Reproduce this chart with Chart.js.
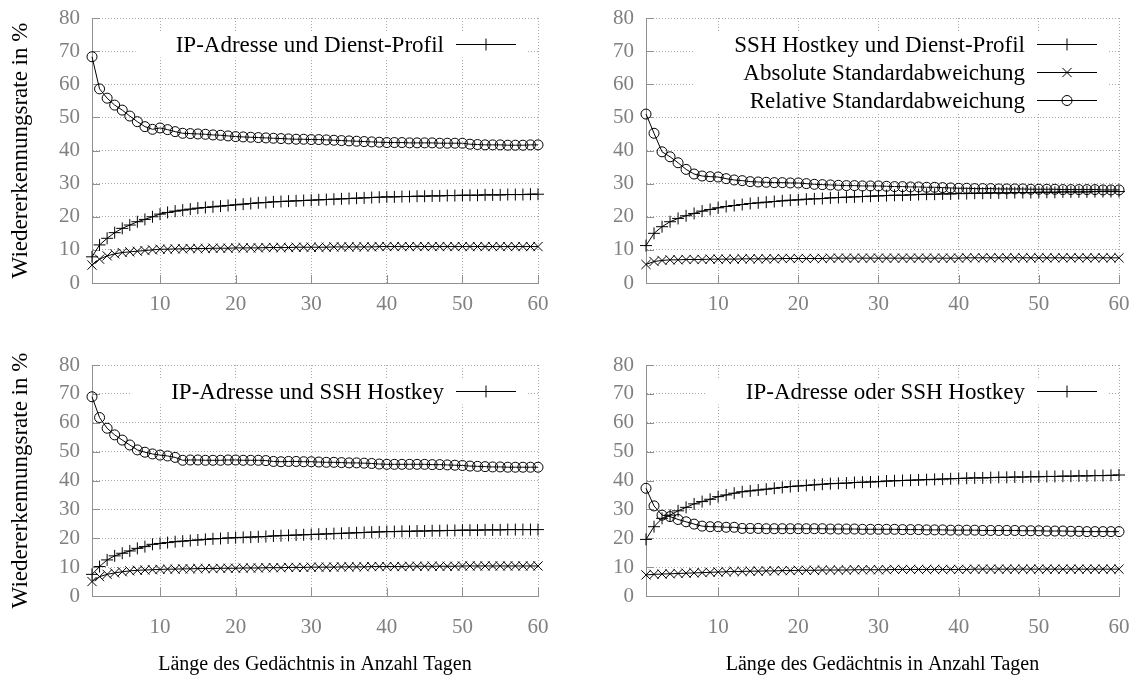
<!DOCTYPE html>
<html><head><meta charset="utf-8">
<script src="https://cdn.jsdelivr.net/npm/chart.js@4/dist/chart.umd.min.js"></script>
<style>
html,body{margin:0;padding:0;background:#fff;width:1139px;height:677px;overflow:hidden}
canvas{position:absolute}
</style></head><body>
<canvas id="c1" width="569" height="340" style="left:0;top:0"></canvas>
<canvas id="c2" width="570" height="340" style="left:569px;top:0"></canvas>
<canvas id="c3" width="569" height="337" style="left:0;top:340px"></canvas>
<canvas id="c4" width="570" height="337" style="left:569px;top:340px"></canvas>
<script>
const days = [1,2,3,4,5,6,7,8,9,10,11,12,13,14,15,16,17,18,19,20,21,22,23,24,25,26,27,28,29,30,
  31,32,33,34,35,36,37,38,39,40,41,42,43,44,45,46,47,48,49,50,51,52,53,54,55,56,57,58,59,60];
const xTicks = [10,20,30,40,50,60];
const yTicks = [0,10,20,30,40,50,60,70,80];
const yTitle = 'Wiedererkennungsrate in %';
const xTitle = 'Länge des Gedächtnis in Anzahl Tagen';
const labelAbs = 'Absolute Standardabweichung';
const labelRel = 'Relative Standardabweichung';
const titles = ['IP-Adresse und Dienst-Profil','SSH Hostkey und Dienst-Profil','IP-Adresse und SSH Hostkey','IP-Adresse oder SSH Hostkey'];

const p1Rate = [7.9,11.5,13.5,15.2,16.5,17.5,18.5,19.2,20.0,20.8,
  21.3,21.7,22.0,22.3,22.6,22.8,23.0,23.2,23.4,23.6,
  23.8,24.0,24.2,24.3,24.5,24.6,24.7,24.8,24.9,25.0,
  25.1,25.2,25.3,25.4,25.5,25.6,25.7,25.8,25.9,26.0,
  26.0,26.1,26.1,26.2,26.2,26.3,26.3,26.4,26.4,26.5,
  26.5,26.5,26.6,26.6,26.6,26.7,26.7,26.7,26.8,26.8];
const p1Abs = [5.4,7.2,8.2,8.8,9.2,9.4,9.6,9.8,10.0,10.2,
  10.2,10.3,10.3,10.4,10.4,10.4,10.5,10.5,10.5,10.6,
  10.6,10.6,10.6,10.7,10.7,10.7,10.7,10.8,10.8,10.8,
  10.8,10.8,10.9,10.9,10.9,10.9,10.9,10.9,11.0,11.0,
  11.0,11.0,11.0,11.0,11.0,11.0,11.0,11.0,11.0,11.0,
  11.0,11.0,11.0,11.0,11.0,11.0,11.0,11.0,11.0,11.0];
const p1Rel = [68.3,58.6,55.8,53.7,52.2,50.4,48.7,47.2,46.4,46.8,
  46.3,45.7,45.2,45.1,45.0,44.9,44.7,44.6,44.4,44.2,
  44.1,44.0,43.9,43.8,43.7,43.6,43.5,43.4,43.4,43.3,
  43.3,43.2,43.1,43.0,42.9,42.8,42.7,42.6,42.5,42.4,
  42.4,42.4,42.3,42.3,42.3,42.3,42.2,42.2,42.2,42.2,
  41.9,41.8,41.7,41.7,41.7,41.6,41.6,41.6,41.7,41.7];

const p2Rate = [11.3,15.0,17.0,18.5,19.5,20.3,21.0,21.7,22.2,22.7,
  23.1,23.4,23.7,24.0,24.2,24.4,24.6,24.8,25.0,25.1,
  25.3,25.4,25.5,25.7,25.8,25.9,26.0,26.1,26.2,26.3,
  26.4,26.5,26.5,26.6,26.7,26.8,26.8,26.9,26.9,27.0,
  27.0,27.1,27.1,27.2,27.2,27.2,27.3,27.3,27.3,27.4,
  27.4,27.4,27.5,27.5,27.5,27.5,27.6,27.6,27.6,27.6];
const p2Abs = [5.6,6.5,6.8,7.0,7.0,7.1,7.1,7.1,7.2,7.2,
  7.2,7.2,7.3,7.3,7.3,7.3,7.3,7.4,7.4,7.4,
  7.4,7.4,7.4,7.5,7.5,7.5,7.5,7.5,7.5,7.5,
  7.5,7.5,7.5,7.5,7.5,7.5,7.5,7.5,7.5,7.5,
  7.6,7.6,7.6,7.6,7.6,7.6,7.6,7.6,7.6,7.6,
  7.6,7.6,7.6,7.6,7.6,7.6,7.6,7.6,7.6,7.6];
const p2Rel = [51.0,45.2,39.6,38.1,36.3,34.3,32.9,32.3,32.1,32.0,
  31.5,31.1,30.9,30.6,30.5,30.4,30.3,30.3,30.2,30.2,
  30.0,29.8,29.7,29.6,29.5,29.4,29.4,29.3,29.3,29.3,
  29.2,29.1,29.1,29.0,29.0,28.9,28.9,28.8,28.7,28.6,
  28.6,28.5,28.5,28.5,28.4,28.4,28.4,28.4,28.3,28.3,
  28.3,28.3,28.2,28.2,28.2,28.2,28.2,28.1,28.1,28.1];

const p3Rate = [7.5,10.2,12.5,13.9,14.8,15.6,16.5,17.1,17.9,18.2,
  18.5,18.8,19.0,19.2,19.4,19.6,19.8,19.9,20.1,20.2,
  20.3,20.4,20.5,20.6,20.8,20.9,21.0,21.1,21.2,21.3,
  21.4,21.5,21.6,21.7,21.8,21.9,22.0,22.1,22.2,22.3,
  22.3,22.4,22.4,22.5,22.5,22.6,22.6,22.7,22.7,22.8,
  22.8,22.8,22.9,22.9,22.9,23.0,23.0,23.0,23.0,23.0];
const p3Abs = [5.0,6.7,7.5,8.0,8.4,8.7,8.9,9.0,9.1,9.2,
  9.3,9.3,9.4,9.4,9.5,9.5,9.5,9.6,9.6,9.6,
  9.7,9.7,9.7,9.8,9.8,9.8,9.9,9.9,9.9,10.0,
  10.0,10.0,10.0,10.1,10.1,10.1,10.1,10.2,10.2,10.2,
  10.2,10.2,10.3,10.3,10.3,10.3,10.3,10.3,10.3,10.4,
  10.4,10.4,10.4,10.4,10.4,10.4,10.4,10.4,10.4,10.4];
const p3Rel = [69.0,61.8,58.1,55.8,54.0,52.3,50.6,49.8,49.2,48.8,
  48.5,48.0,47.0,47.1,47.1,47.0,47.0,47.0,47.1,47.1,
  47.0,47.0,47.0,46.9,46.6,46.5,46.6,46.6,46.5,46.5,
  46.4,46.3,46.3,46.2,46.1,46.1,46.0,45.9,45.7,45.6,
  45.6,45.6,45.6,45.6,45.6,45.5,45.5,45.4,45.3,45.2,
  45.0,44.9,44.8,44.7,44.7,44.6,44.6,44.6,44.6,44.6];

const p4Rate = [19.6,24.0,26.9,28.0,29.5,30.7,31.9,32.7,33.5,34.4,
  35.0,35.6,36.1,36.4,36.7,37.0,37.3,37.6,37.9,38.1,
  38.3,38.5,38.7,38.9,39.0,39.1,39.3,39.4,39.5,39.6,
  39.8,39.9,40.0,40.1,40.2,40.3,40.4,40.5,40.6,40.7,
  40.8,40.9,40.9,41.0,41.1,41.1,41.2,41.2,41.3,41.3,
  41.4,41.4,41.5,41.5,41.6,41.6,41.7,41.7,41.8,41.9];
const p4Abs = [7.3,7.5,7.6,7.7,7.8,7.9,8.0,8.1,8.2,8.3,
  8.4,8.5,8.5,8.6,8.6,8.7,8.7,8.8,8.8,8.9,
  8.9,8.9,9.0,9.0,9.0,9.0,9.1,9.1,9.1,9.1,
  9.1,9.2,9.2,9.2,9.2,9.2,9.2,9.2,9.2,9.2,
  9.2,9.3,9.3,9.3,9.3,9.3,9.3,9.3,9.3,9.3,
  9.3,9.3,9.3,9.3,9.3,9.3,9.3,9.3,9.3,9.3];
const p4Rel = [37.3,31.2,28.0,27.5,26.5,25.7,24.9,24.2,24.0,24.0,
  23.8,23.8,23.4,23.4,23.4,23.3,23.3,23.3,23.3,23.3,
  23.3,23.3,23.3,23.2,23.2,23.2,23.2,23.1,23.1,23.1,
  23.1,23.1,23.0,23.0,23.0,22.9,22.9,22.9,22.8,22.8,
  22.8,22.8,22.7,22.7,22.7,22.7,22.7,22.6,22.6,22.6,
  22.5,22.5,22.5,22.4,22.4,22.3,22.3,22.3,22.3,22.3];

const FONT = '"Liberation Serif", "Times New Roman", serif';
const GRID = '#a8a8a8';
const AXIS = '#909090';
const TICKC = '#808080';

function drawMarker(ctx, style, x, y, r){
  ctx.beginPath();
  if (style === 'cross'){
    ctx.moveTo(x - r, y); ctx.lineTo(x + r, y);
    ctx.moveTo(x, y - r); ctx.lineTo(x, y + r);
  } else if (style === 'crossRot'){
    const d = r * Math.SQRT1_2;
    ctx.moveTo(x - d, y - d); ctx.lineTo(x + d, y + d);
    ctx.moveTo(x - d, y + d); ctx.lineTo(x + d, y - d);
  } else {
    ctx.arc(x, y, r, 0, Math.PI * 2);
  }
  ctx.stroke();
}

const innerTicks = {
  id: 'innerTicks',
  beforeDatasetsDraw(chart){
    const ctx = chart.ctx, a = chart.chartArea, xs = chart.scales.x, ys = chart.scales.y;
    ctx.save();
    ctx.strokeStyle = AXIS; ctx.lineWidth = 1;
    ctx.beginPath();
    xTicks.forEach(v => { const px = Math.round(xs.getPixelForValue(v)) + 0.5; ctx.moveTo(px, a.bottom); ctx.lineTo(px, a.bottom - 8); });
    yTicks.forEach(v => { const py = Math.round(ys.getPixelForValue(v)) + 0.5; ctx.moveTo(a.left, py); ctx.lineTo(a.left + 8, py); });
    ctx.stroke();
    ctx.restore();
  }
};

const gnuKey = {
  id: 'gnuKey',
  afterDraw(chart, args, opts){
    const ctx = chart.ctx, a = chart.chartArea;
    const entries = opts.entries;
    ctx.save();
    ctx.font = '23px ' + FONT;
    const sx1 = a.right - 82, sx2 = a.right - 22, tx = sx1 - 12;
    const cy0 = a.top + 25.5, dy = 28;
    let maxW = 0;
    entries.forEach(i => { maxW = Math.max(maxW, ctx.measureText(chart.data.datasets[i].label).width); });
    const bl = tx - maxW - 40, br = a.right - 11, bt = cy0 - 12, bb = cy0 + dy * (entries.length - 1) + 14;
    ctx.fillStyle = '#fff';
    ctx.fillRect(bl, bt, br - bl, bb - bt);
    entries.forEach((i, k) => {
      const ds = chart.data.datasets[i];
      const y = Math.round(cy0 + k * dy) + 0.5;
      ctx.fillStyle = '#000'; ctx.textAlign = 'right'; ctx.textBaseline = 'middle';
      ctx.fillText(ds.label, tx, y + 1);
      ctx.strokeStyle = '#000'; ctx.lineWidth = 1;
      ctx.beginPath(); ctx.moveTo(sx1, y); ctx.lineTo(sx2, y); ctx.stroke();
      drawMarker(ctx, ds.pointStyle, (sx1 + sx2) / 2, y, ds.pointRadius);
    });
    ctx.restore();
  }
};

function pts(arr){ return days.map((d, i) => ({x: d, y: arr[i]})); }

function makeChart(cfg){
  const cv = document.getElementById(cfg.id);
  const W = cv.width, H = cv.height;
  const common = {borderColor:'#000', borderWidth:1, pointBorderColor:'#000', pointBackgroundColor:'rgba(0,0,0,0)', pointBorderWidth:1, tension:0, clip:false, fill:false};
  return new Chart(cv, {
    type: 'line',
    data: {datasets: [
      Object.assign({label: cfg.title, data: pts(cfg.rate), pointStyle:'cross', pointRadius:6}, common),
      Object.assign({label: labelAbs, data: pts(cfg.abs), pointStyle:'crossRot', pointRadius:6.5}, common),
      Object.assign({label: labelRel, data: pts(cfg.rel), pointStyle:'circle', pointRadius:5}, common)
    ]},
    options: {
      responsive: false, animation: false, devicePixelRatio: 1,
      events: [],
      layout: {padding: {left: 0, top: cfg.top, right: W - cfg.right, bottom: 0}},
      plugins: {legend: {display: false}, tooltip: {enabled: false}, gnuKey: {entries: cfg.keys}},
      scales: {
        x: {
          type: 'linear', min: 1, max: 60,
          afterBuildTicks: s => { s.ticks = xTicks.map(v => ({value: v})); },
          afterFit: s => { s.height = H - cfg.bottom; s.paddingLeft = 0; s.paddingRight = 0; },
          grid: {color: GRID, lineWidth: 1, drawTicks: false},
          border: {display: true, color: AXIS, width: 1, dash: [1, 2]},
          ticks: {color: TICKC, font: {family: FONT, size: 21}, padding: cfg.xPad, maxRotation: 0, autoSkip: false},
          title: {display: !!cfg.xTitle, text: cfg.xTitle || '', color: '#000', font: {family: FONT, size: 20}, padding: {top: 0, bottom: 0}}
        },
        y: {
          min: 0, max: 80,
          afterBuildTicks: s => { s.ticks = yTicks.map(v => ({value: v})); },
          afterFit: s => { s.width = cfg.left; s.paddingTop = 0; s.paddingBottom = 0; },
          grid: {color: GRID, lineWidth: 1, drawTicks: false},
          border: {display: true, color: AXIS, width: 1, dash: [1, 2]},
          ticks: {color: TICKC, font: {family: FONT, size: 21}, padding: 12},
          title: {display: !!cfg.yTitle, text: cfg.yTitle || '', color: '#000', font: {family: FONT, size: 23}, padding: {top: 7, bottom: 0}}
        }
      }
    },
    plugins: [innerTicks, gnuKey]
  });
}

makeChart({id:'c1', title: titles[0], rate: p1Rate, abs: p1Abs, rel: p1Rel, keys:[0], left:92, right:538, top:18, bottom:283, xPad:9, yTitle: yTitle});
makeChart({id:'c2', title: titles[1], rate: p2Rate, abs: p2Abs, rel: p2Rel, keys:[0,1,2], left:77, right:550, top:18, bottom:283, xPad:9});
makeChart({id:'c3', title: titles[2], rate: p3Rate, abs: p3Abs, rel: p3Rel, keys:[0], left:92, right:538, top:25, bottom:256, xPad:19, yTitle: yTitle, xTitle: xTitle});
makeChart({id:'c4', title: titles[3], rate: p4Rate, abs: p4Abs, rel: p4Rel, keys:[0], left:77, right:550, top:25, bottom:256, xPad:19, xTitle: xTitle});
</script>
</body></html>
